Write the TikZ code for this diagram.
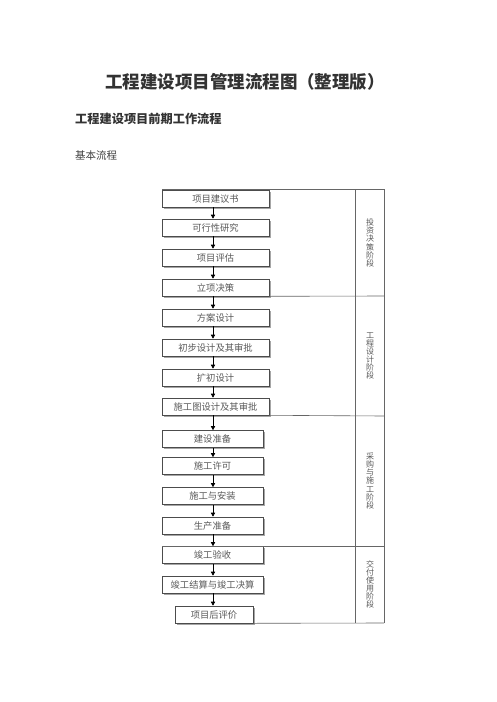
\documentclass[tikz,border=0pt]{standalone}
\usepackage{fontspec}
\newfontfamily\cjk{Noto Sans CJK SC}
\usetikzlibrary{shadows,arrows.meta}
\begin{document}
\begin{tikzpicture}[x=1pt,y=-1pt,
  box/.style={draw=black!70, fill=white, line width=0.6pt, inner sep=0pt,
    minimum height=17pt, font=\cjk\fontsize{9.3}{10}\selectfont, text=black!65,
    drop shadow={shadow xshift=1.6pt,shadow yshift=-1.6pt,fill=black!35,opacity=1}},
  wbox/.style={box, minimum width=107pt},
  mbox/.style={box, minimum width=101pt},
  arr/.style={draw=black, line width=0.7pt, -{Triangle[length=4pt,width=4.2pt]}},
  frame/.style={draw=black!60, line width=0.6pt},
  vlab/.style={font=\cjk\fontsize{8}{8.1}\selectfont, align=center, text=black!65, inner sep=0pt}
]
\fill[white] (0,0) rectangle (496,702);
\useasboundingbox (0,0) rectangle (496,702);

\node[font=\cjk\bfseries\fontsize{17.5}{20}\selectfont, text=black!80, inner sep=0pt] (title) at (245,82) {工程建设项目管理流程图（整理版）};
\node[font=\cjk\bfseries\fontsize{12.2}{14}\selectfont, text=black!80, inner sep=0pt, anchor=west] (sub) at (75,119) {工程建设项目前期工作流程};
\node[font=\cjk\fontsize{10.5}{12}\selectfont, text=black!75, inner sep=0pt, anchor=west] (basic) at (75,156) {基本流程};

% frame
\draw[frame] (162,189) -- (384,189) -- (384,623);
\draw[frame] (355,189) -- (355,623);

\node[wbox] (b1) at (215.5,198.5) {项目建议书};
\node[wbox] (b2) at (215.5,227.5) {可行性研究};
\node[wbox] (b3) at (215.5,257.5) {项目评估};
\node[wbox] (b4) at (215.5,287.5) {立项决策};
\node[wbox] (b5) at (215.5,317.5) {方案设计};
\node[wbox] (b6) at (215.5,347.5) {初步设计及其审批};
\node[wbox] (b7) at (215.5,377.5) {扩初设计};
\node[wbox] (b8) at (215.5,406.5) {施工图设计及其审批};
\node[mbox] (b9) at (212.5,439) {建设准备};
\node[mbox] (b10) at (212.5,466) {施工许可};
\node[mbox] (b11) at (212.5,496) {施工与安装};
\node[mbox] (b12) at (212.5,525.5) {生产准备};
\node[mbox] (b13) at (212.5,555) {竣工验收};
\node[mbox] (b14) at (212.5,584.5) {竣工结算与竣工决算};
\node[box, minimum width=78pt] (b15) at (214,614.5) {项目后评价};

\draw[frame] (b4.south east) -- (384,296);
\draw[frame] (b8.south east) -- (384,416);
\draw[frame] (162,546) -- (384,546);
\draw[frame] (b15.south east) -- (384,623);

\coordinate (ax) at (213,0);
\foreach \i/\j in {1/2,2/3,3/4,4/5,5/6,6/7,7/8,8/9,9/10,10/11,11/12,12/13,13/14,14/15}
  \draw[arr] (b\i.south -| ax) -- (b\j.north -| ax);

\node[vlab] (s1) at (370,243) {投\\资\\决\\策\\阶\\段};
\node[vlab] (s2) at (370,356) {工\\程\\设\\计\\阶\\段};
\node[vlab] (s3) at (370,481) {采\\购\\与\\施\\工\\阶\\段};
\node[vlab] (s4) at (370,584.5) {交\\付\\使\\用\\阶\\段};
\end{tikzpicture}
\end{document}
